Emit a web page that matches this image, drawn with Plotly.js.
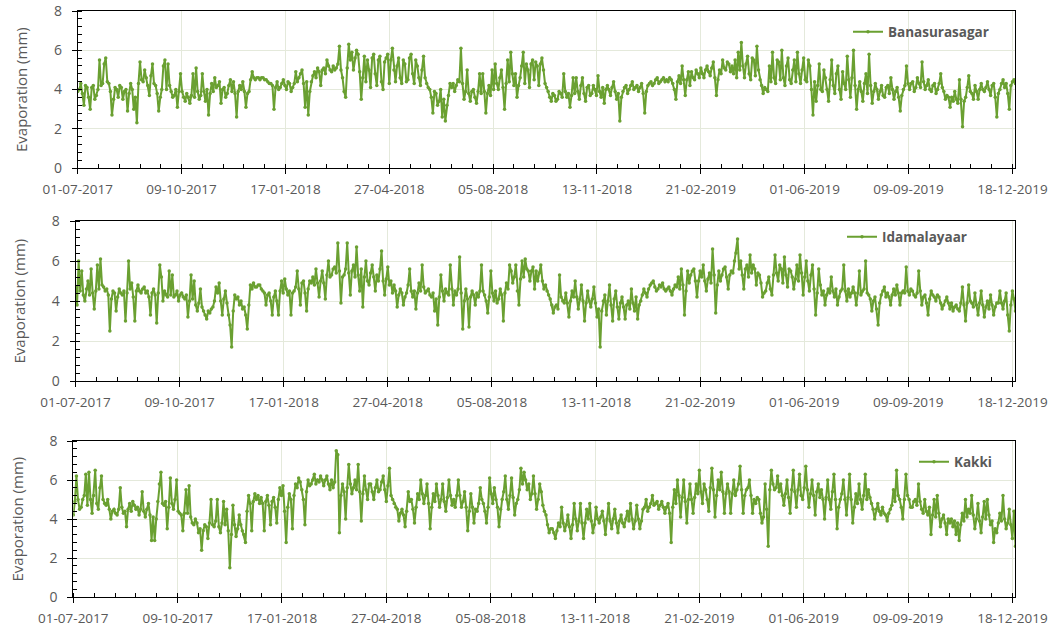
<!DOCTYPE html>
<html><head><meta charset="utf-8">
<script src="https://cdn.plot.ly/plotly-3.0.1.min.js"></script>
<style>html,body{margin:0;padding:0;background:#fff}#chart{width:1053px;height:626px}</style>
</head><body><div id="chart"></div>
<script>
// Pan evaporation (mm), every 1.5 days from 01-07-2017
const startDate = [2017, 6, 1];
const stepDays = 1.5;

const banasurasagar = [
3.9,4.0,4.3,3.8,3.2,4.2,4.1,3.6,3.0,4.1,4.2,3.5,3.7,4.0,5.5,4.2,4.3,5.3,5.6,4.4,
4.3,3.9,2.7,3.5,4.1,4.0,3.6,4.2,4.1,3.5,3.9,4.0,2.9,3.8,4.3,4.0,3.0,3.6,2.3,4.3,
5.4,4.5,4.4,5.0,4.6,4.2,3.7,4.7,5.3,4.3,4.2,3.8,2.9,3.6,4.0,5.2,5.5,4.0,5.3,4.2,
3.9,3.6,3.7,4.0,3.1,3.9,4.8,3.9,3.6,3.4,3.8,3.6,3.3,3.7,4.8,3.6,5.1,3.9,3.5,3.7,
4.8,3.9,3.4,4.0,2.7,3.8,4.3,3.9,4.6,4.1,4.2,4.4,3.3,4.0,4.1,3.6,3.8,4.2,4.5,3.9,
4.4,3.8,2.6,3.9,4.2,4.0,4.4,3.9,3.1,3.8,3.9,4.5,4.9,4.6,4.5,4.6,4.6,4.5,4.6,4.6,
4.5,4.5,4.4,4.3,4.3,4.2,3.0,4.1,4.4,4.0,4.1,4.3,4.5,4.2,4.0,4.4,4.3,3.9,4.1,4.3,
4.9,4.4,4.6,4.8,5.0,4.3,3.1,4.4,2.7,3.9,4.4,4.7,4.9,4.6,5.1,4.9,4.2,5.0,5.1,4.8,
5.5,5.2,5.0,4.9,5.2,5.0,5.1,5.3,6.2,5.0,4.6,3.9,3.6,5.1,6.3,5.5,5.9,5.0,5.6,6.0,
5.8,4.9,3.5,4.6,5.7,4.4,5.5,5.0,4.1,5.6,5.8,4.8,4.2,5.5,5.7,4.4,4.0,5.4,5.6,5.8,
4.3,5.5,6.1,5.0,4.4,5.2,5.6,4.6,4.3,5.5,5.3,4.4,4.5,5.6,5.8,4.8,4.3,5.5,5.2,4.6,
4.2,5.0,5.7,4.6,4.3,4.1,4.0,3.6,2.8,3.9,3.8,3.2,3.4,4.0,2.6,3.5,2.4,3.2,3.7,4.3,
4.1,4.3,3.9,4.2,4.5,4.4,6.1,4.3,3.5,3.9,5.0,3.8,3.4,3.9,4.0,3.6,3.3,3.9,4.8,3.8,
4.8,3.9,2.8,3.8,4.2,3.7,5.0,4.0,5.3,4.3,4.0,4.6,5.0,4.1,3.0,4.3,5.5,4.4,5.9,4.8,
4.2,4.8,3.6,4.2,4.6,5.2,5.9,4.3,5.3,5.0,4.1,5.3,5.5,4.5,5.4,5.2,4.2,5.3,5.6,5.0,
4.3,4.1,3.9,3.6,3.4,3.8,3.7,3.4,3.5,3.9,3.8,3.6,4.8,3.9,3.6,3.8,3.1,3.7,4.6,3.8,
4.6,3.9,3.5,4.2,4.6,3.8,3.4,4.1,4.2,3.7,3.8,4.2,4.0,3.7,4.7,3.9,3.6,4.1,3.3,4.0,
4.2,4.0,3.7,4.1,4.4,3.9,3.5,3.8,2.4,3.6,3.9,4.1,4.2,3.8,4.0,4.2,4.4,4.0,4.1,4.2,
3.9,4.1,4.3,3.8,2.8,3.9,4.2,4.3,4.4,4.2,4.3,4.5,4.6,4.3,4.4,4.5,4.6,4.4,4.5,4.4,
4.6,4.5,4.3,4.0,3.5,4.4,4.7,4.3,5.2,4.5,3.7,4.5,4.9,4.2,4.9,4.6,4.5,5.0,4.8,4.6,
5.1,4.8,4.6,5.0,5.2,4.9,4.7,5.1,5.4,4.6,3.7,4.5,5.0,4.8,5.5,5.1,5.0,5.4,5.3,4.9,
5.2,4.8,5.5,4.6,5.9,5.0,6.4,5.2,4.6,5.3,5.7,4.8,4.5,5.6,5.5,4.7,6.2,5.0,4.5,4.2,
3.8,4.1,4.0,3.9,5.2,4.4,5.9,4.6,4.3,5.5,5.4,4.5,6.0,4.6,4.2,5.2,5.6,4.5,4.3,5.0,
5.5,4.4,5.9,4.8,4.3,5.0,5.6,4.5,4.4,5.5,5.2,4.0,2.7,4.4,3.4,4.2,5.3,4.0,3.9,5.0,
4.6,4.0,3.4,4.5,5.5,4.2,3.8,4.8,5.2,4.0,3.5,4.9,4.3,4.0,5.7,4.5,3.6,4.6,6.0,4.2,
3.0,4.0,4.4,3.9,3.4,4.3,4.8,3.8,5.8,4.2,3.3,3.9,4.3,4.0,3.5,3.9,4.2,3.7,3.6,4.1,
4.2,3.8,4.6,4.0,3.5,3.9,4.1,3.6,2.9,3.7,4.0,4.2,5.2,4.3,4.0,4.3,4.4,3.9,4.1,4.6,
4.3,4.1,5.4,4.4,4.0,4.2,4.5,4.0,3.9,4.2,4.3,3.8,4.0,4.3,4.8,4.1,3.9,3.5,3.7,3.6,
3.1,3.6,3.4,3.9,3.5,3.3,4.5,3.5,2.1,3.4,3.6,4.1,4.7,3.9,3.8,3.5,4.2,3.9,3.5,4.0,
4.3,4.0,3.9,4.1,4.4,4.0,3.7,4.2,4.3,3.6,2.6,3.8,4.0,4.3,4.5,4.1,4.3,3.8,3.0,4.2,4.4,4.5,4.3
];

const idamalayaar = [
4.7,3.8,6.0,4.5,5.5,4.3,4.0,4.6,5.0,4.3,5.6,4.4,3.6,4.5,5.8,4.6,6.1,4.8,4.7,4.5,
4.6,4.3,2.5,4.1,4.5,4.4,3.5,4.2,4.6,4.4,4.3,4.5,3.0,4.4,6.0,4.6,4.9,4.2,3.0,4.5,
4.8,4.5,4.4,4.6,4.7,4.4,4.5,4.2,3.3,4.4,4.6,4.3,2.9,4.4,5.8,5.2,4.0,4.5,4.3,4.2,
5.5,4.3,5.3,4.2,4.3,4.5,4.0,4.3,4.4,4.2,4.1,4.3,3.2,4.0,5.3,4.1,5.0,3.8,3.5,3.9,
4.6,3.7,3.5,3.3,3.1,3.5,3.4,3.6,3.7,4.0,4.7,4.4,4.9,4.0,3.3,4.1,4.5,3.9,3.3,2.8,
1.7,3.5,4.3,4.1,4.2,3.8,4.0,3.6,3.7,3.3,2.6,3.8,4.8,4.6,4.9,4.7,4.7,4.8,4.8,4.6,
4.5,4.4,3.8,4.3,4.4,4.0,3.3,4.2,4.5,4.0,3.3,4.5,5.0,4.4,5.1,4.6,4.3,4.5,3.3,4.4,
4.5,4.7,5.5,4.6,3.8,4.9,5.0,4.4,3.5,4.6,5.0,4.9,5.2,4.8,5.6,4.9,4.2,5.0,5.5,4.9,
4.1,5.3,6.0,5.2,5.3,5.6,5.7,5.4,6.9,5.5,3.9,5.2,5.3,5.6,6.9,5.4,4.3,5.5,5.8,5.2,
6.7,5.3,4.5,5.6,3.7,5.2,6.0,5.0,4.8,5.4,5.8,5.2,4.5,5.3,5.0,5.6,6.5,5.0,4.3,5.1,
5.7,4.8,5.0,4.4,4.8,4.5,3.7,4.3,4.6,4.4,3.8,4.2,4.4,4.8,5.6,4.5,4.2,4.5,3.6,4.4,
4.9,4.5,5.8,4.7,4.4,4.5,4.6,4.3,4.2,4.4,3.5,4.1,2.8,4.2,5.3,4.5,4.0,4.6,4.4,4.3,
5.8,4.6,3.8,4.5,4.3,4.6,6.2,4.4,2.6,4.0,4.6,4.1,2.7,4.2,4.5,4.3,3.8,4.4,4.2,4.5,
5.8,4.5,4.3,4.0,3.4,4.2,5.5,4.4,4.0,4.5,3.9,4.1,4.6,4.3,3.0,4.4,4.9,4.6,5.8,5.5,
4.9,5.2,5.8,4.5,3.8,5.1,6.0,5.2,6.1,5.6,5.5,5.0,5.5,5.7,4.6,5.5,5.0,5.4,5.8,5.0,
4.6,4.8,4.5,4.3,4.1,3.8,3.4,3.7,3.8,3.6,5.3,4.2,4.0,3.9,4.4,3.9,3.2,4.0,4.5,4.2,
5.0,4.2,3.6,4.1,4.8,4.0,3.0,3.9,4.5,4.0,3.7,4.1,4.7,3.9,3.2,3.6,1.7,3.5,4.0,4.3,
3.3,4.0,4.8,3.8,3.0,4.1,4.5,3.7,3.1,3.9,4.2,3.7,3.1,3.8,4.0,3.6,4.6,3.9,3.5,4.2,
3.1,3.8,4.0,4.3,4.6,4.4,4.2,4.6,4.8,4.9,5.0,4.7,4.5,4.6,4.8,4.7,4.9,4.6,4.5,4.6,
4.7,4.5,4.3,4.6,4.8,4.7,5.2,4.6,5.6,4.8,3.3,4.5,5.5,4.9,5.3,5.5,5.6,5.0,4.2,5.0,
5.5,5.2,5.8,5.0,4.5,5.1,5.4,4.9,6.6,5.3,3.4,4.8,5.5,5.0,5.3,5.6,5.7,5.2,4.6,5.3,
5.5,5.4,6.0,6.4,7.1,5.6,6.0,5.3,4.6,5.6,5.8,5.2,6.3,5.4,5.8,5.6,4.8,5.4,5.3,4.9,
4.2,4.4,4.5,4.9,5.2,4.6,4.3,5.3,6.3,5.4,5.0,5.8,5.6,4.9,6.2,5.3,4.7,5.6,5.5,5.2,
4.6,5.1,5.8,5.0,6.3,5.4,4.3,5.2,6.0,5.0,4.5,5.3,5.8,4.6,3.3,4.4,5.6,4.8,4.3,4.5,
3.8,4.3,4.6,4.4,5.2,4.5,4.2,4.6,3.8,4.2,4.5,4.6,5.8,4.5,4.0,4.6,4.2,4.4,4.7,4.4,
3.8,4.4,5.5,4.3,4.5,4.6,6.0,4.4,4.3,4.1,3.5,4.0,4.2,3.6,2.8,3.9,4.3,4.5,4.7,4.2,
4.4,4.2,3.8,4.3,4.6,4.3,4.8,4.4,3.8,4.4,4.5,4.4,5.7,4.5,4.3,4.6,4.5,4.3,4.2,4.4,
5.5,4.5,3.8,4.2,4.3,3.9,3.3,4.1,4.5,4.3,4.2,4.0,4.3,4.2,3.9,3.6,3.8,4.0,4.2,3.9,
3.6,3.9,3.5,3.7,3.8,3.6,3.5,3.9,4.7,3.8,3.0,3.9,4.8,4.0,3.9,3.7,4.4,3.8,3.3,3.9,
4.5,3.8,3.2,3.7,4.0,3.6,4.3,3.8,3.3,3.7,3.9,3.9,4.5,3.9,3.6,4.0,4.4,3.3,2.5,3.8,4.5,4.1,3.5
];

const kakki = [
4.2,4.9,6.2,5.0,4.5,4.6,5.0,5.2,6.3,4.7,6.4,5.0,4.3,5.2,6.5,4.8,4.5,5.6,6.2,5.0,
4.8,4.7,5.0,4.5,4.0,4.4,4.5,4.3,4.2,4.5,5.6,4.6,4.3,4.4,3.6,4.5,4.8,4.4,4.9,4.7,
4.5,4.6,4.2,4.5,5.4,4.4,4.1,4.5,4.8,4.2,2.9,4.1,2.9,4.0,4.9,5.8,6.4,4.8,4.7,4.9,
3.5,4.6,6.1,4.8,4.5,5.0,6.0,4.4,4.3,4.2,3.4,4.3,5.5,4.3,5.7,4.1,3.8,3.7,4.0,3.8,
3.3,3.5,2.4,3.4,3.7,3.6,3.0,3.8,5.0,3.7,3.6,3.9,5.0,3.6,3.3,3.8,4.9,3.7,4.5,3.4,
1.5,3.2,4.7,3.7,3.1,3.5,4.2,3.7,3.4,3.2,2.8,4.4,5.2,4.8,3.4,4.9,5.3,5.0,5.2,4.8,
5.1,4.8,3.4,4.9,5.2,4.7,3.7,4.9,5.1,4.6,3.8,5.0,5.6,5.2,5.7,4.4,2.8,4.6,5.3,5.0,
3.5,5.2,5.8,5.6,6.1,5.9,5.5,5.0,3.7,5.4,6.0,5.7,5.8,6.0,6.3,5.8,6.0,5.9,6.2,6.0,
5.7,6.0,6.2,5.8,5.5,6.0,5.6,5.9,7.5,7.3,3.3,5.2,5.8,5.4,4.0,5.6,6.8,5.8,5.3,5.6,
6.0,5.5,6.8,5.4,3.9,5.3,6.2,5.5,5.0,5.8,5.8,5.4,5.0,5.6,6.0,5.4,5.5,5.9,6.2,5.5,
4.9,5.7,6.6,5.2,5.0,4.8,4.6,4.5,3.9,4.3,4.5,4.2,3.6,4.4,5.4,4.9,5.0,4.5,3.8,4.6,
5.3,5.0,6.0,5.3,4.8,5.2,5.8,4.8,3.5,4.6,5.3,4.9,5.8,5.2,4.6,5.0,5.8,4.9,4.4,5.1,
6.0,5.2,4.7,5.0,4.6,5.2,6.0,5.2,4.6,4.9,5.4,4.6,3.4,4.4,5.3,4.6,3.8,4.5,4.4,4.8,
5.6,5.0,4.8,4.4,3.8,4.6,6.1,5.3,4.8,5.6,5.0,4.6,3.6,4.5,5.0,5.4,6.2,5.0,4.5,5.2,
6.1,5.1,4.2,4.8,5.0,5.5,6.6,5.8,6.4,6.0,5.5,5.8,5.0,5.3,6.2,5.3,4.5,5.0,5.8,5.4,
4.7,4.4,4.2,3.7,3.3,3.5,3.5,3.3,3.0,3.4,3.8,3.6,4.6,3.8,3.4,3.7,4.2,3.6,3.0,3.7,
4.8,4.0,3.4,3.9,4.8,3.8,3.0,3.8,4.5,4.0,4.8,3.9,3.3,3.7,4.6,4.0,3.8,4.1,4.4,3.9,
3.2,4.0,4.8,3.9,3.5,4.0,4.5,3.8,3.3,3.9,4.2,3.8,3.6,4.0,4.4,3.9,4.8,4.0,3.5,3.9,
4.7,4.0,3.5,3.9,4.5,4.6,5.0,4.4,4.6,4.8,5.2,4.7,4.8,4.9,4.5,4.7,4.9,4.6,4.3,4.6,
4.8,4.3,2.8,4.6,5.5,4.8,6.0,5.2,4.1,5.1,6.0,4.9,3.8,5.0,5.8,5.0,4.3,5.1,5.8,5.3,
6.5,5.4,4.8,5.8,5.5,5.0,4.4,5.6,6.6,5.5,4.1,5.2,6.0,5.5,6.4,5.4,4.3,5.3,5.8,5.4,
4.3,5.3,6.0,5.2,5.5,5.8,6.7,5.5,4.3,5.2,5.5,5.6,6.0,5.2,4.3,5.0,4.8,5.1,5.0,4.3,
3.8,4.1,5.8,4.5,2.6,5.5,6.5,5.8,5.5,5.6,6.2,5.4,5.8,5.2,4.7,5.3,6.0,5.1,4.3,5.5,
6.5,5.4,4.6,5.5,6.3,5.2,5.0,5.6,6.7,5.5,4.6,5.3,6.0,5.2,4.2,5.4,5.8,5.1,5.5,5.0,
4.0,5.1,6.0,5.0,4.5,5.4,6.3,5.0,3.5,4.6,5.0,5.3,6.0,5.0,4.2,5.1,6.3,5.0,3.8,4.6,
5.3,4.8,5.8,5.0,4.5,5.2,6.3,5.0,5.5,5.1,4.8,4.5,4.0,4.5,4.8,4.4,4.2,4.6,4.3,4.2,
3.9,4.3,4.5,4.7,5.5,4.9,6.5,5.2,5.0,4.6,4.0,5.0,6.3,5.2,5.0,4.6,4.6,4.9,5.0,4.7,
5.8,4.9,4.5,4.3,5.0,4.4,4.2,4.6,3.2,4.2,5.0,4.1,5.2,4.3,3.6,4.0,4.2,3.8,3.2,4.0,
3.8,4.0,3.6,3.9,3.2,3.8,2.9,3.7,4.3,3.9,5.0,4.1,4.5,4.3,5.2,4.2,3.5,4.0,4.8,3.9,
3.3,4.1,4.9,4.0,5.0,4.2,3.7,3.9,2.8,3.5,3.3,3.8,4.3,3.9,5.2,4.0,3.5,3.8,4.5,3.7,3.0,4.4,2.6
];

const seriesNames = ['Banasurasagar', 'Idamalayaar', 'Kakki'];
const seriesValues = [banasurasagar, idamalayaar, kakki];
const yTitle = 'Evaporation (mm)';

function dateList(n) {
  const t0 = Date.UTC(startDate[0], startDate[1], startDate[2]);
  const out = [];
  for (let i = 0; i < n; i++) {
    out.push(new Date(t0 + i * stepDays * 86400000).toISOString().slice(0, 16).replace('T', ' '));
  }
  return out;
}

const W = 1053, H = 626;
// pixel boxes of each panel: [left, right, top, bottom]
const boxes = [[77.7, 1015, 11, 168], [75.5, 1015, 221, 381], [73.3, 1015, 441, 597]];
const legendPos = [[848, 32], [842, 237], [914, 462]];
const yTitleX = [20.5, 18.5, 16.5];

const GREEN = '#6aa031';
const GRID = '#e4e9db';
const TXT = '#595959';
const FONT = 'Open Sans, sans-serif';
const DAY = 86400000;

const data = [];
const layout = {
  width: W, height: H,
  margin: {l: 0, r: 0, t: 0, b: 0},
  paper_bgcolor: '#fff', plot_bgcolor: '#fff',
  font: {family: FONT, color: TXT},
  annotations: [],
  hovermode: false
};

boxes.forEach((b, i) => {
  const sfx = i === 0 ? '' : String(i + 1);
  const xd = [b[0] / W, b[1] / W];
  const yd = [1 - b[3] / H, 1 - b[2] / H];
  const legName = 'legend' + sfx;
  data.push({
    type: 'scatter', mode: 'lines+markers',
    x: dateList(seriesValues[i].length), y: seriesValues[i],
    name: seriesNames[i],
    xaxis: 'x' + sfx, yaxis: 'y' + sfx, legend: legName,
    line: {color: GREEN, width: 2},
    marker: {color: GREEN, size: 3.5},
    showlegend: true
  });
  layout['xaxis' + sfx] = {
    domain: xd, anchor: 'y' + sfx, type: 'date',
    range: ['2017-07-01', '2019-12-20 12:00'],
    tick0: '2017-07-01', dtick: 100 * DAY, tickformat: '%d-%m-%Y',
    ticks: 'outside', ticklen: 5, tickcolor: '#000', tickwidth: 1,
    ticklabelstandoff: 4,
    showline: true, linecolor: '#000', linewidth: 1, mirror: true,
    showgrid: true, gridcolor: GRID, gridwidth: 1, zeroline: false,
    tickfont: {family: FONT, size: 13.5, color: TXT},
    minor: {dtick: 20 * DAY, tick0: '2017-07-01', ticks: 'inside', ticklen: 4, tickcolor: '#000', showgrid: false},
    fixedrange: true
  };
  layout['yaxis' + sfx] = {
    domain: yd, anchor: 'x' + sfx,
    range: [0, 8], tick0: 0, dtick: 2,
    ticks: 'outside', ticklen: 5, tickcolor: '#000', tickwidth: 1,
    ticklabelstandoff: 7,
    showline: true, linecolor: '#000', linewidth: 1, mirror: true,
    showgrid: true, gridcolor: GRID, gridwidth: 1, zeroline: false,
    tickfont: {family: FONT, size: 14, color: TXT},
    minor: {dtick: 0.4, ticks: 'inside', ticklen: 4, tickcolor: '#000', showgrid: false},
    fixedrange: true
  };
  layout[legName] = {
    x: legendPos[i][0] / W, y: 1 - legendPos[i][1] / H,
    xanchor: 'left', yanchor: 'middle',
    bgcolor: 'rgba(0,0,0,0)', borderwidth: 0,
    font: {family: FONT, size: 13.5, color: TXT, weight: 'bold'}
  };
  layout.annotations.push({
    text: yTitle, xref: 'paper', yref: 'paper',
    x: yTitleX[i] / W, y: 1 - (b[2] + b[3]) / 2 / H,
    xanchor: 'center', yanchor: 'middle', textangle: -90, showarrow: false,
    font: {family: FONT, size: 15, color: TXT}
  });
});

Plotly.newPlot('chart', data, layout, {displayModeBar: false, staticPlot: true});
</script>
</body></html>
